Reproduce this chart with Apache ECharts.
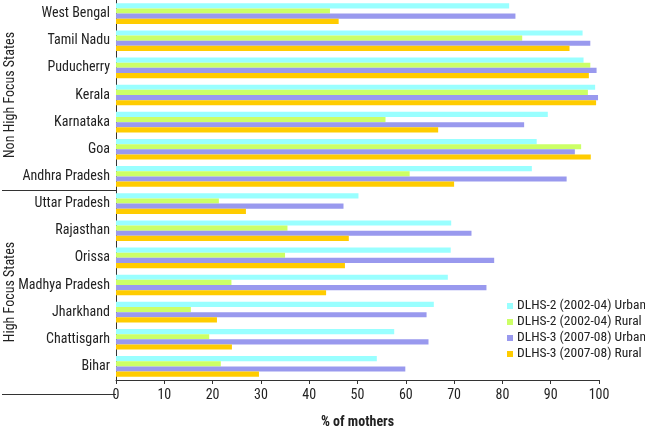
<!DOCTYPE html>
<html><head><meta charset="utf-8">
<script src="https://cdn.jsdelivr.net/npm/echarts@6/dist/echarts.min.js"></script>
<style>html,body{margin:0;padding:0;background:#fff}#c{width:645px;height:434px}</style>
</head><body><div id="c"></div>
<script>
const categories = ["Bihar","Chattisgarh","Jharkhand","Madhya Pradesh","Orissa","Rajasthan","Uttar Pradesh","Andhra Pradesh","Goa","Karnataka","Kerala","Puducherry","Tamil Nadu","West Bengal"];
const dlhs2Urban = [54.0,57.6,65.8,68.7,69.3,69.4,50.2,86.1,87.1,89.4,99.2,96.8,96.6,81.4];
const dlhs2Rural = [21.7,19.3,15.5,23.9,35.0,35.5,21.3,60.8,96.3,55.8,97.7,98.2,84.1,44.3];
const dlhs3Urban = [59.9,64.7,64.3,76.7,78.3,73.6,47.1,93.3,95.0,84.5,99.8,99.5,98.2,82.7];
const dlhs3Rural = [29.6,24.0,20.9,43.5,47.4,48.2,26.9,70.0,98.3,66.7,99.4,97.9,93.9,46.1];
const seriesNames = ["DLHS-2 (2002-04) Urban","DLHS-2 (2002-04) Rural","DLHS-3 (2007-08) Urban","DLHS-3 (2007-08) Rural"];
const xTicks = [0,10,20,30,40,50,60,70,80,90,100];
const groupLabels = ["Non High Focus States","High Focus States"];

const FONT = '"Liberation Sans Narrow","Roboto Condensed","Liberation Sans",sans-serif';
const colors = ['#99FFFF','#CCFF66','#9999EE','#FFCC00'];
const values = [dlhs2Urban, dlhs2Rural, dlhs3Urban, dlhs3Rural];
const chart = echarts.init(document.getElementById('c'));
const series = [0,1,2,3].map(i => ({
  name: seriesNames[i], type: 'bar', data: values[i],
  itemStyle: {color: colors[i]}, barGap: '0%', barCategoryGap: '24%',
  animation: false
}));
chart.setOption({
  animation: false,
  textStyle: {fontFamily: FONT},
  grid: {left: 116, right: 46, top: 0, bottom: 40},
  legend: {
    data: seriesNames, orient: 'vertical', left: 502, top: 294, itemGap: 2,
    itemWidth: 6, itemHeight: 6, icon: 'rect',
    textStyle: {fontFamily: FONT, fontSize: 13.5, color: '#222', padding: [0,0,0,-1]}
  },
  xAxis: {
    type: 'value', min: 0, max: 100, interval: 10,
    name: '% of mothers', nameLocation: 'middle', nameGap: 35,
    nameTextStyle: {fontFamily: FONT, fontSize: 14, fontWeight: 'bold', color: '#222'},
    axisLine: {show: true, lineStyle: {color: '#333', width: 1}},
    axisTick: {show: true, length: 4, lineStyle: {color: '#333'}},
    axisLabel: {fontFamily: FONT, fontSize: 14, color: '#222', margin: 8,
      formatter: v => xTicks.includes(v) ? String(v) : ''},
    splitLine: {show: false}
  },
  yAxis: {
    type: 'category', data: categories,
    axisLine: {show: true, lineStyle: {color: '#333', width: 1}},
    axisTick: {show: false},
    axisLabel: {fontFamily: FONT, fontSize: 14, color: '#222', margin: 6}
  },
  series: series
});
const x0 = chart.convertToPixel({xAxisIndex:0}, 0);
const yAP = chart.convertToPixel({yAxisIndex:0}, 7);
const yUP = chart.convertToPixel({yAxisIndex:0}, 6);
const yDiv = (yAP + yUP) / 2;
chart.setOption({
  graphic: [
    {type:'line', shape:{x1:2, y1:Math.round(yDiv)+0.5, x2:x0, y2:Math.round(yDiv)+0.5}, style:{stroke:'#333', lineWidth:1}},
    {type:'line', shape:{x1:2, y1:394.5, x2:x0, y2:394.5}, style:{stroke:'#333', lineWidth:1}},
    {type:'text', x:10, y:(yDiv + 0)/2, rotation:Math.PI/2,
      style:{text:groupLabels[0], font:'14px '+FONT, fill:'#222', align:'center', verticalAlign:'middle'}},
    {type:'text', x:10, y:(yDiv + 394)/2, rotation:Math.PI/2,
      style:{text:groupLabels[1], font:'14px '+FONT, fill:'#222', align:'center', verticalAlign:'middle'}}
  ]
});
</script></body></html>
